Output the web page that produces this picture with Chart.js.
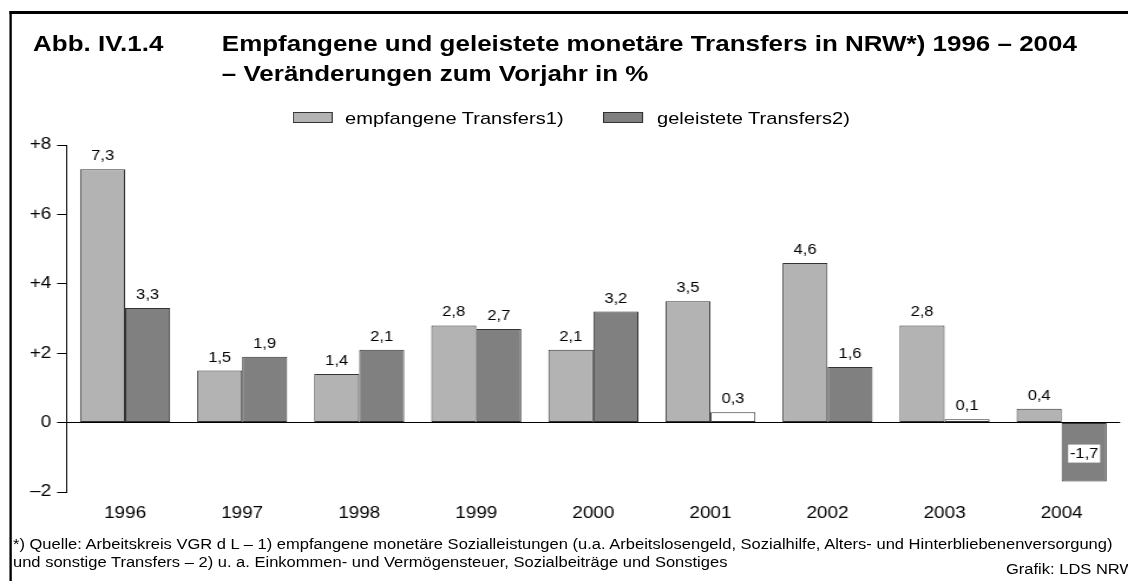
<!DOCTYPE html>
<html>
<head>
<meta charset="utf-8">
<script src="https://cdn.jsdelivr.net/npm/chart.js@4.4.0/dist/chart.umd.min.js"></script>
<style>
html, body { margin: 0; padding: 0; background: #fff; overflow: hidden; }
/* the reference is drawn horizontally stretched, so the whole page is laid out narrow and scaled */
#page { position: absolute; left: 0; top: 0; width: 956px; height: 581px; transform: scaleX(1.18); transform-origin: 0 0;
        font-family: "Liberation Sans", Arial, sans-serif; color: #000; overflow: hidden; }
#frame { position: absolute; left: 7.6px; top: 11px; right: -20px; bottom: -20px; border-top: 3px solid #000; border-left: 2.6px solid #000; }
canvas { position: absolute; left: 0; top: 0; }
.t { position: absolute; white-space: nowrap; }
.title { font-weight: bold; font-size: 22px; line-height: 22px; }
.leg { font-size: 17px; line-height: 17px; }
.box { position: absolute; width: 32px; height: 9px; border: 1px solid #333; }
.note { font-size: 14px; line-height: 14px; }
</style>
</head>
<body>
<div id="page">
  <div id="frame"></div>
  <canvas id="chart" width="956" height="581"></canvas>

  <div class="t title" style="left:28px; top:33.4px;">Abb. IV.1.4</div>
  <div class="t title" style="left:188px; top:33.4px;">Empfangene und geleistete monetäre Transfers in NRW*) 1996 – 2004</div>
  <div class="t title" style="left:188px; top:62.6px;">– Veränderungen zum Vorjahr in %</div>

  <div class="box" style="left:248px; top:112px; background:#b3b3b3;"></div>
  <div class="t leg" style="left:292.4px; top:109.5px;">empfangene Transfers1)</div>
  <div class="box" style="left:511px; top:112px; background:#808080;"></div>
  <div class="t leg" style="left:556.8px; top:109.5px;">geleistete Transfers2)</div>

  <div class="t note" style="left:11px; top:536.5px;">*) Quelle: Arbeitskreis VGR d L – 1) empfangene monetäre Sozialleistungen (u.a. Arbeitslosengeld, Sozialhilfe, Alters- und Hinterbliebenenversorgung)</div>
  <div class="t note" style="left:11px; top:554.5px;">und sonstige Transfers – 2) u. a. Einkommen- und Vermögensteuer, Sozialbeiträge und Sonstiges</div>
  <div class="t note" style="left:852.5px; top:562px;">Grafik: LDS NRW</div>
</div>

<script>
const years = ['1996', '1997', '1998', '1999', '2000', '2001', '2002', '2003', '2004'];
const empfangen = [7.3, 1.5, 1.4, 2.8, 2.1, 3.5, 4.6, 2.8, 0.4];
const geleistet = [3.3, 1.9, 2.1, 2.7, 3.2, 0.3, 1.6, 0.1, -1.7];
const yTickValues = [-2, 0, 2, 4, 6, 8];
const yTickLabels = ['–2', '0', '+2', '+4', '+6', '+8'];

const FONT = '"Liberation Sans", Arial, sans-serif';
const LIGHT = '#b3b3b3';
const DARK = '#808080';
// in the reference the tiny 2001 and 2003 "geleistete" bars are left unfilled
const hollow = ['2001', '2003'];
const darkFill = years.map(y => hollow.includes(y) ? '#ffffff' : DARK);

// value labels with German decimal comma
const valueLabels = {
    id: 'valueLabels',
    afterDatasetsDraw(chart) {
        const ctx = chart.ctx;
        ctx.save();
        ctx.font = '14px ' + FONT;
        ctx.textAlign = 'center';
        chart.data.datasets.forEach((ds, i) => {
            chart.getDatasetMeta(i).data.forEach((bar, j) => {
                const v = ds.data[j];
                const txt = v.toFixed(1).replace('.', ',');
                if (v >= 0) {
                    ctx.fillStyle = '#000';
                    ctx.textBaseline = 'alphabetic';
                    ctx.fillText(txt, bar.x, bar.y - 9);
                } else {
                    const w = ctx.measureText(txt).width + 3;
                    const cy = bar.y - 28;
                    ctx.fillStyle = '#fff';
                    ctx.fillRect(bar.x - w / 2, cy - 9, w, 18);
                    ctx.fillStyle = '#000';
                    ctx.textBaseline = 'middle';
                    ctx.fillText(txt, bar.x, cy + 1);
                }
            });
        });
        ctx.restore();
    }
};

new Chart(document.getElementById('chart').getContext('2d'), {
    type: 'bar',
    data: {
        labels: years,
        datasets: [{
            label: 'empfangene Transfers1)',
            data: empfangen,
            backgroundColor: LIGHT,
            borderColor: '#333',
            borderWidth: 1,
            borderSkipped: false
        }, {
            label: 'geleistete Transfers2)',
            data: geleistet,
            backgroundColor: darkFill,
            borderColor: '#333',
            borderWidth: 1,
            borderSkipped: false
        }]
    },
    options: {
        responsive: false,
        animation: false,
        categoryPercentage: 0.769,
        barPercentage: 1.0,
        layout: { padding: { left: 0, right: 6.7, top: 145, bottom: 0 } },
        plugins: {
            legend: { display: false },
            tooltip: { enabled: false }
        },
        scales: {
            x: {
                grid: { display: false, drawTicks: false },
                border: { display: false },
                ticks: { color: '#000', font: { family: FONT, size: 16 }, padding: 12, maxRotation: 0 },
                afterFit(s) { s.height = 89; }
            },
            y: {
                min: -2,
                max: 8,
                afterBuildTicks(s) { s.ticks = yTickValues.map(v => ({ value: v })); },
                ticks: {
                    color: '#000',
                    font: { family: FONT, size: 16 },
                    padding: 5,
                    callback: v => yTickLabels[yTickValues.indexOf(v)]
                },
                grid: {
                    color: c => (c.tick && c.tick.value === 0) ? '#000' : 'rgba(0,0,0,0)',
                    tickColor: '#000',
                    tickLength: 8,
                    lineWidth: 1
                },
                border: { display: true, color: '#000', width: 1 },
                afterFit(s) { s.width = 56.4; }
            }
        }
    },
    plugins: [valueLabels]
});
</script>
</body>
</html>
